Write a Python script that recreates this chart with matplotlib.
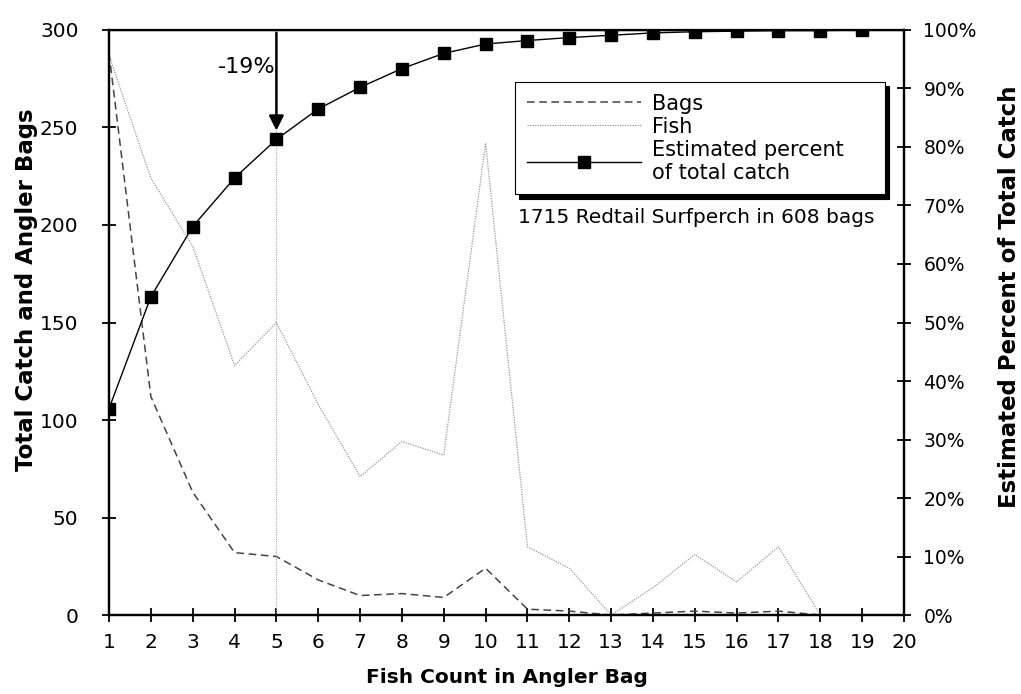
import matplotlib.pyplot as plt
from matplotlib.lines import Line2D

# Fish count per angler bag
fish_count = list(range(1, 21))
pct_count = list(range(1, 20))

# Number of bags with that count
bags = [288, 112, 63, 32, 30, 18, 10, 11, 9, 24, 3, 2, 0, 1, 2, 1, 2, 0]
# Fish caught in those bags
fish = [287, 224, 189, 128, 150, 108, 71, 89, 82, 242, 35, 24, 0, 14, 31, 17, 35, 0]
# Estimated percent of total catch under a bag limit
est_pct = [35.3, 54.4, 66.4, 74.7, 81.3, 86.5, 90.2, 93.4, 96.0, 97.6,
           98.2, 98.7, 99.1, 99.5, 99.7, 99.8, 99.9, 99.9, 100.0]

fig = plt.figure(figsize=(10.21, 6.94), dpi=100)
ax = fig.add_axes([0.1068, 0.1138, 0.7786, 0.843])
ax2 = ax.twinx()

n = len(bags)
ax.plot(fish_count[:n], bags, linestyle=(0, (5, 3)), color='#444444', lw=1.1, label='Bags')
ax.plot(fish_count[:n], fish, linestyle=(0, (1, 1)), color='#999999', lw=0.9, label='Fish')

# reference line at the bag limit of 5
ax.axvline(5, color='#aaaaaa', lw=0.8, linestyle=(0, (1, 1)))
ax.annotate('', xy=(5, 247), xytext=(5, 300),
            arrowprops=dict(arrowstyle='-|>', color='black', lw=1.8, mutation_scale=22))
ax.text(4.97, 281, '-19%', ha='right', va='center', fontsize=16)

ax2.plot(pct_count, [p / 100 for p in est_pct], color='black', lw=1, marker='s',
         markersize=8, label='Estimated percent\nof total catch')

ax.set_xlim(1, 20)
ax.set_ylim(0, 300)
ax2.set_ylim(0, 1)
ax.set_xticks(fish_count)
ax.set_yticks(range(0, 301, 50))
ax2.set_yticks([i / 10 for i in range(11)])
ax2.set_yticklabels([f'{i * 10}%' for i in range(11)])

for a in (ax, ax2):
    for s in a.spines.values():
        s.set_linewidth(1.6)
    a.tick_params(direction='inout', length=10, width=1.3, labelsize=14.5)
ax2.tick_params(axis='y', labelsize=13.5, pad=9)
ax.tick_params(axis='y', pad=17)
ax.tick_params(axis='x', pad=8)
ax.spines['top'].set_linewidth(1.0)

ax.set_xlabel('Fish Count in Angler Bag', fontsize=14.5, fontweight='bold')
ax.set_ylabel('Total Catch and Angler Bags', fontsize=16.5, fontweight='bold')
ax2.set_ylabel('Estimated Percent of Total Catch', fontsize=16.5, fontweight='bold', rotation=90)
ax.xaxis.set_label_coords(0.5, -0.09)
ax.yaxis.set_label_coords(-0.089, 0.556)
ax2.yaxis.set_label_coords(1.118, 0.544)

handles = [Line2D([0], [0], linestyle=(0, (5, 3)), color='#444444', lw=1.1),
           Line2D([0], [0], linestyle=(0, (1, 1)), color='#999999', lw=0.9),
           Line2D([0], [0], color='black', lw=1, marker='s', markersize=8)]
labels = ['Bags', 'Fish', 'Estimated percent\nof total catch']
leg = ax2.legend(handles, labels, loc='upper left', bbox_to_anchor=(0.511, 0.0, 0.465, 0.911),
                 mode='expand', fontsize=15, handlelength=5.5, handletextpad=0.5,
                 labelspacing=0.15, fancybox=False, edgecolor='black', framealpha=1,
                 borderpad=0.55, borderaxespad=0,
                 shadow={'color': 'black', 'alpha': 1, 'ox': 3, 'oy': -3})
leg.get_frame().set_linewidth(0.8)

ax2.text(0.514, 0.679, '1715 Redtail Surfperch in 608 bags', transform=ax.transAxes,
         ha='left', va='center', fontsize=14.5)

fig.savefig('out.png', dpi=100)
